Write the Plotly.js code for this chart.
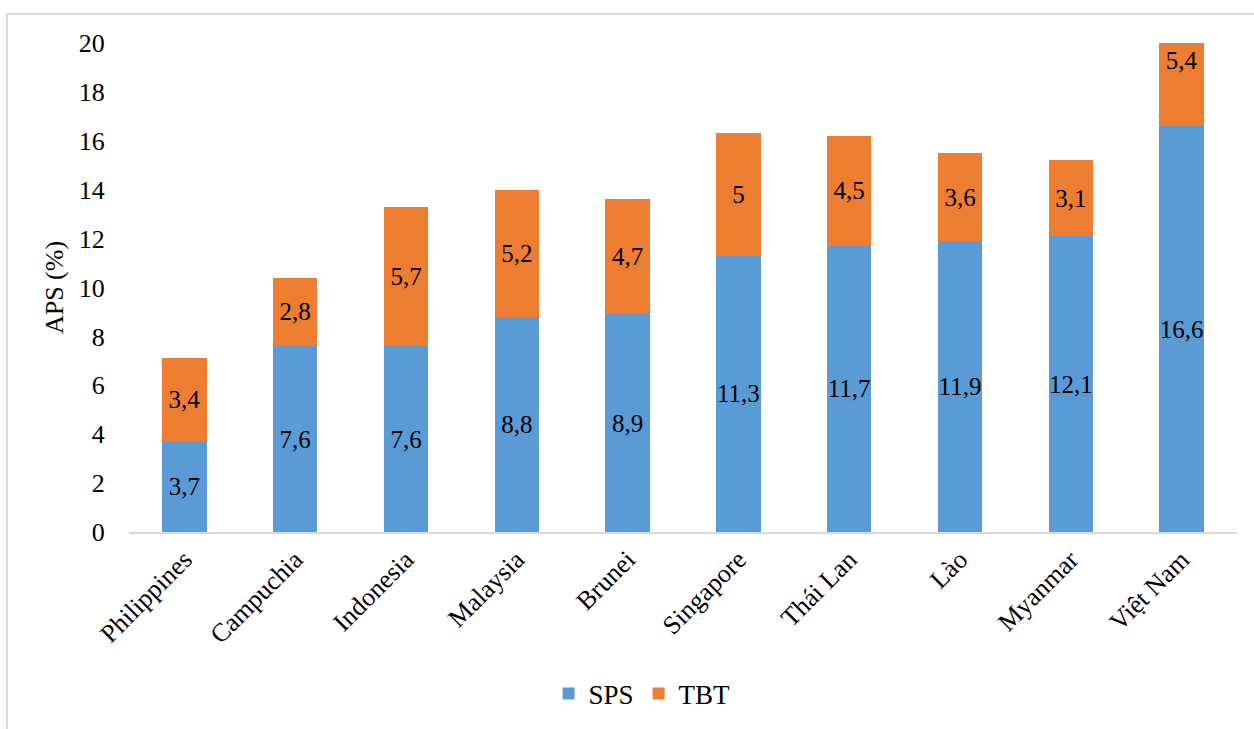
<!DOCTYPE html>
<html>
<head>
<meta charset="utf-8">
<script src="https://cdn.plot.ly/plotly-3.0.1.min.js"></script>
<style>
  html, body { margin: 0; padding: 0; background: #fff; overflow: hidden; }
  #chart { width: 1254px; height: 729px; }
  #frame {
    position: absolute; left: 6px; top: 13px; width: 1400px; height: 900px;
    border-left: 2px solid #d9d9d9; border-top: 2px solid #d9d9d9;
    pointer-events: none;
  }
</style>
</head>
<body>
<div id="chart"></div>
<div id="frame"></div>
<script>
// Countries and the two APS components (%)
const countries = ["Philippines", "Campuchia", "Indonesia", "Malaysia", "Brunei",
                   "Singapore", "Thái Lan", "Lào", "Myanmar", "Việt Nam"];
const sps = [3.7, 7.6, 7.6, 8.8, 8.9, 11.3, 11.7, 11.9, 12.1, 16.6];
const tbt = [3.4, 2.8, 5.7, 5.2, 4.7, 5, 4.5, 3.6, 3.1, 5.4];
const yTicks = [0, 2, 4, 6, 8, 10, 12, 14, 16, 18, 20];

const fontFamily = 'Liberation Serif, Times New Roman, serif';
const label = v => String(v).replace('.', ',');

const barStyle = {
  type: 'bar',
  x: countries,
  textposition: 'inside',
  insidetextanchor: 'middle',
  textangle: 0,
  constraintext: 'none',
  cliponaxis: true,
  textfont: { family: fontFamily, size: 25, color: '#000' },
  hoverinfo: 'skip'
};

const traces = [
  Object.assign({}, barStyle, {
    name: 'SPS', y: sps, text: sps.map(label),
    marker: { color: '#5B9BD5', line: { width: 0 } }
  }),
  Object.assign({}, barStyle, {
    name: 'TBT', y: tbt, text: tbt.map(label),
    marker: { color: '#ED7D31', line: { width: 0 } }
  })
];

const layout = {
  width: 1254, height: 729,
  margin: { l: 129, r: 17, t: 43, b: 197 },
  paper_bgcolor: '#fff', plot_bgcolor: '#fff',
  barmode: 'stack',
  bargap: 0.6,
  font: { family: fontFamily, size: 26, color: '#000' },
  showlegend: true,
  legend: {
    orientation: 'h', x: 0.512, xanchor: 'center', xref: 'container',
    y: 0.048, yanchor: 'middle', yref: 'container',
    font: { family: fontFamily, size: 27, color: '#000' },
    itemwidth: 30, traceorder: 'normal'
  },
  xaxis: {
    showline: true, linecolor: '#d9d9d9', linewidth: 2,
    showgrid: false, zeroline: false,
    tickangle: -45, ticks: '',
    tickfont: { family: fontFamily, size: 26, color: '#000' }
  },
  yaxis: {
    range: [0, 20], tickvals: yTicks, ticktext: yTicks.map(String),
    showline: false, showgrid: false, zeroline: false,
    ticks: 'outside', ticklen: 18, tickcolor: 'rgba(0,0,0,0)',
    tickfont: { family: fontFamily, size: 26, color: '#000' },
    title: { text: 'APS (%)', font: { family: fontFamily, size: 26, color: '#000' }, standoff: 7 }
  }
};

Plotly.newPlot('chart', traces, layout, { displayModeBar: false, staticPlot: true });
</script>
</body>
</html>
